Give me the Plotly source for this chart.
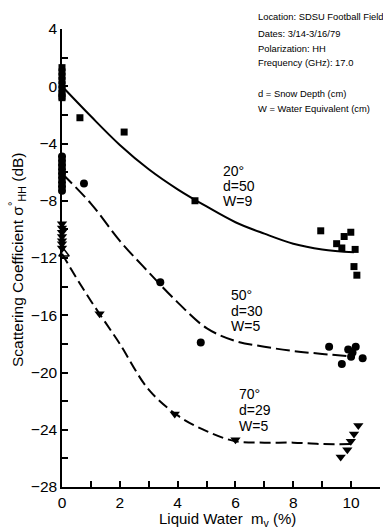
import plotly.graph_objects as go

# ---------------- data ----------------
# 20 deg (squares)
sq_x = [0, 0, 0, 0, 0, 0, 0, 0, 0, 0.62, 2.15, 4.6, 8.95, 9.5, 9.68, 9.76, 9.99, 10.14, 10.1, 10.2]
sq_y = [1.3, 1.0, 0.7, 0.4, 0.1, -0.2, -0.5, -0.7, -0.8, -2.2, -3.2, -8.0, -10.1, -11.0, -11.3, -10.5, -10.2, -11.4, -12.6, -13.2]
# 50 deg (circles)
ci_x = [0, 0, 0, 0, 0, 0, 0, 0, 0, 0.76, 3.4, 4.8, 9.24, 9.68, 9.9, 10.0, 10.05, 10.16, 10.4]
ci_y = [-4.9, -5.2, -5.5, -5.8, -6.1, -6.4, -6.7, -7.0, -7.3, -6.8, -13.7, -17.9, -18.2, -19.4, -18.4, -18.9, -18.6, -18.2, -19.0]
# 70 deg (filled down-triangles)
tr_x = [0, 0, 0, 0, 0, 0, 0, 1.3, 3.9, 6.0, 9.64, 9.87, 9.99, 10.1, 10.25]
tr_y = [-9.6, -9.9, -10.2, -10.5, -10.8, -11.0, -11.3, -15.9, -22.9, -24.7, -25.9, -25.4, -24.8, -24.3, -23.7]
# open up-triangle
ot_x = [0.07]
ot_y = [-11.7]

# fitted curves
c20_x = [0, 1, 2, 3, 4, 5, 6, 7, 8, 9, 10.1]
c20_y = [0, -2.1, -4.1, -5.8, -7.2, -8.4, -9.5, -10.3, -11.0, -11.4, -11.6]
c50_x = [0, 1, 2, 3, 4, 5, 6, 7, 8, 9, 10.1]
c50_y = [-6.1, -8.2, -10.8, -13.0, -15.1, -16.9, -17.8, -18.2, -18.5, -18.7, -18.9]
c70_x = [0, 0.5, 1, 1.5, 2, 3, 4, 5, 6, 7, 8, 9, 10.0]
c70_y = [-11.7, -13.4, -15.0, -16.5, -18.0, -21.2, -23.0, -24.1, -24.8, -24.9, -24.9, -25.0, -25.0]

x_ticks = [0, 2, 4, 6, 8, 10]
y_ticks = [-28, -24, -20, -16, -12, -8, -4, 0, 4]

info_lines = ["Location: SDSU Football Field", "Dates: 3/14-3/16/79", "Polarization: HH",
              "Frequency (GHz): 17.0", "d = Snow Depth (cm)", "W = Water Equivalent (cm)"]
lab20 = ["20°", "d=50", "W=9"]
lab50 = ["50°", "d=30", "W=5"]
lab70 = ["70°", "d=29", "W=5"]

# ---------------- figure ----------------
W, H = 383, 529
L, R, T, B = 62, 3, 29, 42
PW, PH = W - L - R, H - T - B
FONT = "Liberation Sans, Arial, sans-serif"

def px(xp):
    return (xp - L) / PW

def py(yp):
    return (H - B - yp) / PH

fig = go.Figure()
fig.add_trace(go.Scatter(x=c20_x, y=c20_y, mode="lines", line=dict(color="black", width=2, shape="spline")))
fig.add_trace(go.Scatter(x=c50_x, y=c50_y, mode="lines", line=dict(color="black", width=2, shape="spline", dash="14px,5px")))
fig.add_trace(go.Scatter(x=c70_x, y=c70_y, mode="lines", line=dict(color="black", width=2, shape="spline", dash="11px,5px")))
fig.add_trace(go.Scatter(x=sq_x, y=sq_y, mode="markers", cliponaxis=False,
                         marker=dict(symbol="square", size=7, color="black")))
fig.add_trace(go.Scatter(x=ci_x, y=ci_y, mode="markers", cliponaxis=False,
                         marker=dict(symbol="circle", size=8, color="black")))
fig.add_trace(go.Scatter(x=tr_x, y=tr_y, mode="markers", cliponaxis=False,
                         marker=dict(symbol="triangle-down", size=9, color="black")))
fig.add_trace(go.Scatter(x=ot_x, y=ot_y, mode="markers", cliponaxis=False,
                         marker=dict(symbol="triangle-up-open", size=9, color="black", line=dict(width=1.5, color="black"))))

annotations = []
info_y = [17, 33, 48, 63, 93, 109]
for t, yp in zip(info_lines, info_y):
    annotations.append(dict(text=t, x=px(257), y=py(yp), xref="paper", yref="paper",
                            xanchor="left", yanchor="middle", showarrow=False, borderpad=0,
                            font=dict(family=FONT, size=9.4, color="black")))
for labs, x0, ys in [(lab20, 222, [171, 186, 201]), (lab50, 230, [295, 311, 326]), (lab70, 238, [394, 410, 426])]:
    for t, yp in zip(labs, ys):
        annotations.append(dict(text=t, x=px(x0), y=py(yp), xref="paper", yref="paper",
                                xanchor="left", yanchor="middle", showarrow=False, borderpad=0,
                                font=dict(family=FONT, size=14, color="black")))
annotations.append(dict(text="Scattering Coefficient σ<sup>°</sup><sub>HH</sub> (dB)", textangle=-90,
                        x=px(17), y=py(260), xref="paper", yref="paper", xanchor="center", yanchor="middle",
                        showarrow=False, font=dict(family=FONT, size=15.5, color="black")))
annotations.append(dict(text="Liquid Water&nbsp;&nbsp;m<sub>v</sub> (%)",
                        x=px(227), y=py(519), xref="paper", yref="paper", xanchor="center", yanchor="middle",
                        showarrow=False, borderpad=0, font=dict(family=FONT, size=15, color="black")))

fig.update_layout(
    template="none",
    width=W, height=H, margin=dict(l=L, r=R, t=T, b=B, autoexpand=False),
    paper_bgcolor="white", plot_bgcolor="white", showlegend=False,
    font=dict(family=FONT, color="black"),
    annotations=annotations,
    xaxis=dict(range=[0, 11], tickvals=x_ticks, ticks="inside", ticklen=6, tickwidth=1.5, tickcolor="black",
               showline=True, linecolor="black", linewidth=1.5, showgrid=False, zeroline=False, automargin=False,
               tickfont=dict(family=FONT, size=15.5, color="black"), ticklabelstandoff=1,
               minor=dict(dtick=1, ticks="inside", ticklen=6, tickwidth=1.5, tickcolor="black", showgrid=False)),
    yaxis=dict(range=[-28, 4], tickvals=y_ticks, ticks="inside", ticklen=6, tickwidth=1.5, tickcolor="black",
               showline=True, linecolor="black", linewidth=1.5, showgrid=False, zeroline=False, automargin=False,
               tickfont=dict(family=FONT, size=15.5, color="black"),
               minor=dict(dtick=2, ticks="inside", ticklen=6, tickwidth=1.5, tickcolor="black", showgrid=False)),
)

fig.write_html("out.html", config={"displayModeBar": False},
               post_script="document.body.style.margin='0';")
